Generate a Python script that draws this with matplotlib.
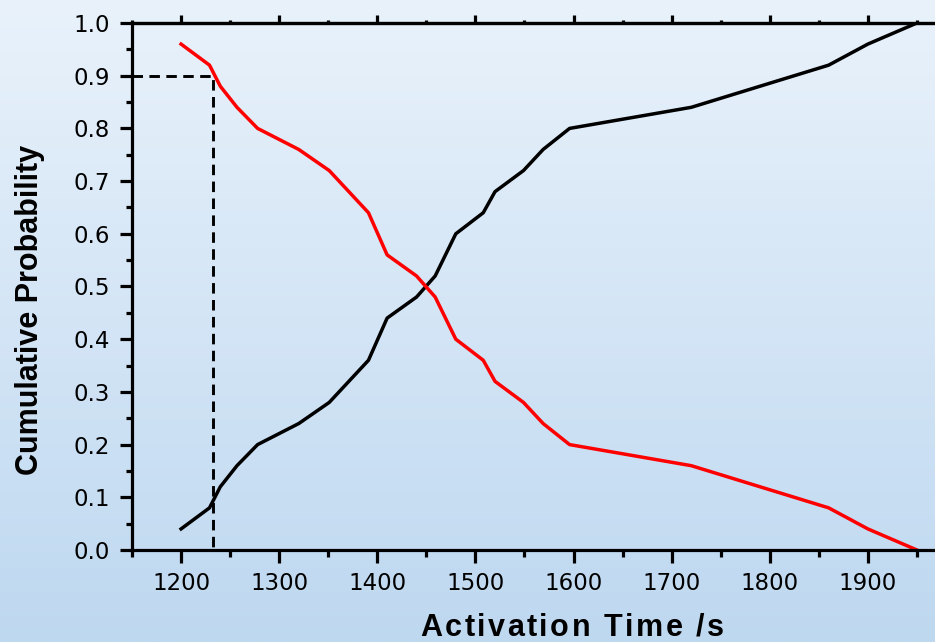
import matplotlib.pyplot as plt
import numpy as np
from matplotlib.ticker import MultipleLocator

# activation times (s) and cumulative probabilities
times = [1200, 1229, 1240, 1257, 1278, 1320, 1351, 1371, 1391, 1410, 1440, 1459,
         1480, 1508, 1520, 1549, 1569, 1596, 1720, 1790, 1860, 1900, 1950]
cum_prob = [0.04, 0.08, 0.12, 0.16, 0.20, 0.24, 0.28, 0.32, 0.36, 0.44, 0.48, 0.52,
            0.60, 0.64, 0.68, 0.72, 0.76, 0.80, 0.84, 0.88, 0.92, 0.96, 1.00]
survival = [0.96, 0.92, 0.88, 0.84, 0.80, 0.76, 0.72, 0.68, 0.64, 0.56, 0.52, 0.48,
            0.40, 0.36, 0.32, 0.28, 0.24, 0.20, 0.16, 0.12, 0.08, 0.04, 0.00]
guide_x = 1233
guide_y = 0.9
xlabel = "Activation Time /s"
ylabel = "Cumulative Probability"

fig = plt.figure(figsize=(9.35, 6.42), dpi=100)

# gradient background
bg = fig.add_axes([0, 0, 1, 1], zorder=-10)
grad = np.linspace(0, 1, 256).reshape(-1, 1)
top = np.array([233, 242, 251]) / 255
bottom = np.array([190, 216, 240]) / 255
img = top + (bottom - top) * grad[:, :, None]
bg.imshow(img, aspect="auto", extent=[0, 1, 0, 1])
bg.axis("off")

ax = fig.add_axes([132 / 935, 92 / 642, 834 / 935, 527 / 642])
ax.set_facecolor("none")

ax.plot(times, cum_prob, color="black", lw=2.5, solid_joinstyle="round")
ax.plot(times, survival, color="#ff0000", lw=2.5, solid_joinstyle="round")
ax.plot([1150, guide_x, guide_x], [guide_y, guide_y, 0], color="black", lw=2.1,
        linestyle=(0, (3.6, 2.2)))

ax.set_xlim(1150, 2000)
ax.set_ylim(0, 1.0)
ax.xaxis.set_major_locator(MultipleLocator(100))
ax.xaxis.set_minor_locator(MultipleLocator(50))
ax.yaxis.set_major_locator(MultipleLocator(0.1))
ax.yaxis.set_minor_locator(MultipleLocator(0.05))
ax.yaxis.set_major_formatter(lambda v, p: f"{v:.1f}")

for s in ["left", "bottom", "top"]:
    ax.spines[s].set_linewidth(2.3)
ax.spines["right"].set_visible(False)

ax.tick_params(axis="x", which="major", direction="out", length=9, width=2.3,
               labelsize=16.5, pad=7)
ax.tick_params(axis="x", which="minor", direction="out", length=5, width=2.3)
ax.tick_params(axis="y", which="major", direction="out", length=9, width=2.3,
               labelsize=16.5, pad=7)
ax.tick_params(axis="y", which="minor", direction="out", length=4.5, width=2.3)

sec = ax.secondary_xaxis("top")
sec.xaxis.set_major_locator(MultipleLocator(100))
sec.xaxis.set_minor_locator(MultipleLocator(50))
sec.spines["top"].set_linewidth(2.3)
sec.tick_params(axis="x", which="major", direction="out", length=6, width=2.3,
                labeltop=False)
sec.tick_params(axis="x", which="minor", direction="out", length=2, width=2.3)

# x label drawn letter by letter to get the wide spacing
renderer = fig.canvas.get_renderer()
font = dict(fontsize=22, fontweight="bold", family=["Liberation Sans", "DejaVu Sans"])
spacing = 2.5
widths = []
for ch in xlabel:
    t = fig.text(0, 0, ch.replace(" ", "_"), **font)
    w = t.get_window_extent(renderer).width
    t.remove()
    widths.append(w * (0.5 if ch == " " else 1.0))
total = sum(widths) + spacing * (len(xlabel) - 1)
xpos = 572 - total / 2
for ch, w in zip(xlabel, widths):
    if ch != " ":
        fig.text(xpos / 935, 1 - 628 / 642, ch, ha="left", va="center", **font)
    xpos += w + spacing

fig.text(30 / 935, 1 - 310 / 642, ylabel, ha="center", va="center",
         rotation=90, fontsize=22, fontweight="bold",
         family=["Liberation Sans Narrow", "Liberation Sans", "DejaVu Sans"])

fig.savefig("out.png", dpi=100)
